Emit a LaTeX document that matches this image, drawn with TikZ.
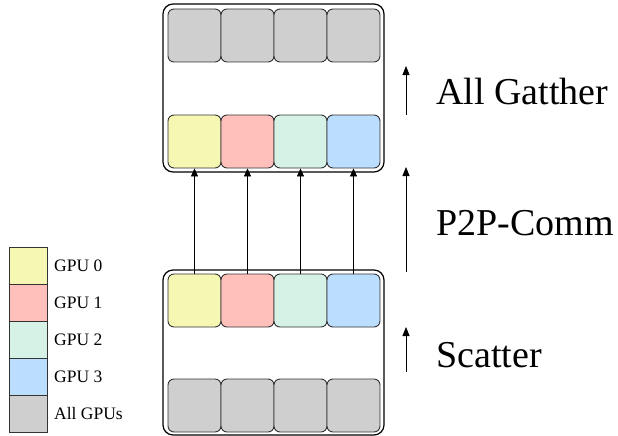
\documentclass[tikz,border=0pt]{standalone}
\usepackage{fontspec}
\setmainfont{Liberation Serif}
\usetikzlibrary{arrows.meta}
\definecolor{gyel}{HTML}{F7F7B4}
\definecolor{gred}{HTML}{FFC0BB}
\definecolor{ggrn}{HTML}{D6F1E6}
\definecolor{gblu}{HTML}{BBDEFF}
\definecolor{ggry}{HTML}{CFCFCF}
\definecolor{edge}{HTML}{333333}
\begin{document}
\begin{tikzpicture}[x=1pt,y=-1pt,
  cell/.style={draw=edge,line width=0.9pt,rounded corners=6pt,minimum width=53pt,minimum height=53pt,inner sep=0pt,anchor=center},
  container/.style={draw=black,line width=1.2pt,rounded corners=10pt,inner sep=0pt},
  legbox/.style={draw=edge,line width=0.8pt,minimum width=38pt,minimum height=37pt,inner sep=0pt,anchor=north west},
  legtext/.style={font=\fontsize{17.5}{20}\selectfont,anchor=west,inner sep=0pt},
  steplabel/.style={font=\fontsize{38}{42}\selectfont,anchor=west,inner sep=0pt},
  conn/.style={draw=black,line width=0.6pt,-{Triangle[length=8pt,width=7pt]}},
  bigarrow/.style={draw=black,line width=0.8pt,-{Triangle[length=9pt,width=7pt]}}]
\useasboundingbox (0,0) rectangle (618,436);
% containers
\node[container,minimum width=221pt,minimum height=168pt] (topbox) at (273.5,88) {};
\node[container,minimum width=221pt,minimum height=165pt] (botbox) at (273.5,352.5) {};
% top rows
\node[cell,fill=ggry] (tg0) at (194.5,35.5) {};
\node[cell,fill=ggry] (tg1) at (247.5,35.5) {};
\node[cell,fill=ggry] (tg2) at (300.5,35.5) {};
\node[cell,fill=ggry] (tg3) at (353.5,35.5) {};
\node[cell,fill=gyel] (tc0) at (194.5,141.5) {};
\node[cell,fill=gred] (tc1) at (247.5,141.5) {};
\node[cell,fill=ggrn] (tc2) at (300.5,141.5) {};
\node[cell,fill=gblu] (tc3) at (353.5,141.5) {};
% bottom rows
\node[cell,fill=gyel] (bc0) at (194.5,300.5) {};
\node[cell,fill=gred] (bc1) at (247.5,300.5) {};
\node[cell,fill=ggrn] (bc2) at (300.5,300.5) {};
\node[cell,fill=gblu] (bc3) at (353.5,300.5) {};
\node[cell,fill=ggry] (bg0) at (194.5,405.5) {};
\node[cell,fill=ggry] (bg1) at (247.5,405.5) {};
\node[cell,fill=ggry] (bg2) at (300.5,405.5) {};
\node[cell,fill=ggry] (bg3) at (353.5,405.5) {};
% p2p arrows
\foreach \i in {0,1,2,3} {\draw[conn] (bc\i.north) -- (tc\i.south);}
% step arrows
\coordinate (a1s) at (406,115); \coordinate (a1e) at (406,66);
\coordinate (a2s) at (406,272); \coordinate (a2e) at (406,167);
\coordinate (a3s) at (406,372); \coordinate (a3e) at (406,327);
\draw[bigarrow] (a1s) -- (a1e);
\draw[bigarrow] (a2s) -- (a2e);
\draw[bigarrow] (a3s) -- (a3e);
\node[steplabel] (lab1) at (436,92) {All Gatther};
\node[steplabel] (lab2) at (436,223) {P2P-Comm};
\node[steplabel] (lab3) at (436,355) {Scatter};
% legend
\node[legbox,fill=gyel] (l0) at (9,247) {};
\node[legbox,fill=gred] (l1) at (9,284) {};
\node[legbox,fill=ggrn] (l2) at (9,321) {};
\node[legbox,fill=gblu] (l3) at (9,358) {};
\node[legbox,fill=ggry] (l4) at (9,395) {};
\node[legtext] (t0) at (54,266) {GPU 0};
\node[legtext] (t1) at (54,303) {GPU 1};
\node[legtext] (t2) at (54,340) {GPU 2};
\node[legtext] (t3) at (54,377) {GPU 3};
\node[legtext] (t4) at (54,414) {All GPUs};
\end{tikzpicture}
\end{document}
